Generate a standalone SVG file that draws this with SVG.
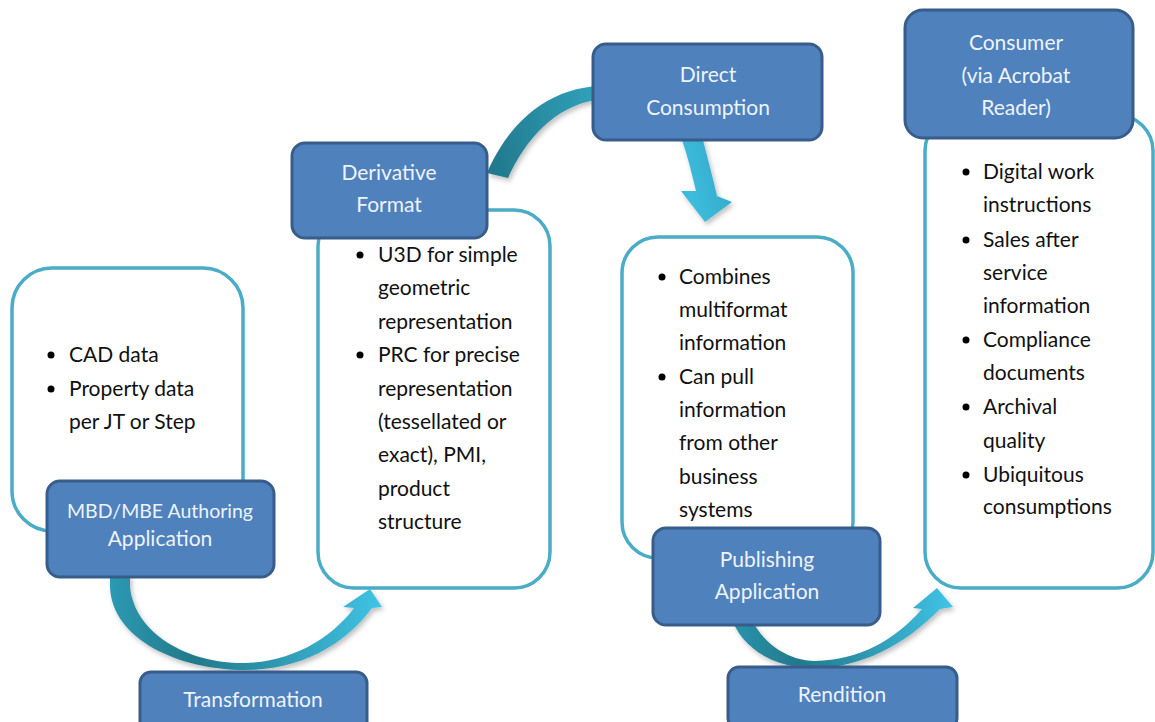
<svg xmlns="http://www.w3.org/2000/svg" width="1155" height="722" viewBox="0 0 1155 722">
<defs>
<style>
.wbox{fill:#ffffff;stroke:#4BACC6;stroke-width:3.5}
.bbox{fill:#4F81BD;stroke:#385D8A;stroke-width:3}
.ht{font-family:Lato,"Liberation Sans",sans-serif;font-size:21px;fill:#eef3fb;text-anchor:middle}
.bt{font-family:Lato,"Liberation Sans",sans-serif;font-size:21px;fill:#111111}
.dot{fill:#000000}
</style>
<filter id="sh" x="-20%" y="-20%" width="140%" height="140%">
<feDropShadow dx="2" dy="3" stdDeviation="2.5" flood-color="#000000" flood-opacity="0.25"/>
</filter>
<linearGradient id="gT" gradientUnits="userSpaceOnUse" x1="110" y1="0" x2="382" y2="0">
<stop offset="0" stop-color="#2c9ab3"/>
<stop offset="0.3" stop-color="#23798b"/>
<stop offset="0.6" stop-color="#2e97b0"/>
<stop offset="1" stop-color="#40c4e6"/>
</linearGradient>
<linearGradient id="gR" gradientUnits="userSpaceOnUse" x1="733" y1="0" x2="953" y2="0">
<stop offset="0" stop-color="#2a93ab"/>
<stop offset="0.3" stop-color="#23798b"/>
<stop offset="0.6" stop-color="#2e97b0"/>
<stop offset="1" stop-color="#40c4e6"/>
</linearGradient>
<linearGradient id="gD" gradientUnits="userSpaceOnUse" x1="487" y1="180" x2="720" y2="120">
<stop offset="0" stop-color="#22768a"/>
<stop offset="0.45" stop-color="#2d9bb3"/>
<stop offset="0.8" stop-color="#3dbcdc"/>
<stop offset="1" stop-color="#34a9c8"/>
</linearGradient>
</defs>

<g id="box-authoring-info"><rect class="wbox" x="12" y="268" width="231" height="263" rx="40"/>
<circle class="dot" cx="51" cy="355" r="3.5"/><text class="bt" x="69" y="362">CAD data</text>
<circle class="dot" cx="51" cy="389" r="3.5"/><text class="bt" x="69" y="396">Property data</text>
<text class="bt" x="69" y="429">per JT or Step</text></g>

<g id="box-derivative-info"><rect class="wbox" x="318" y="210" width="232" height="378" rx="36"/>
<circle class="dot" cx="360" cy="255" r="3.5"/><text class="bt" x="378" y="262">U3D for simple</text>
<text class="bt" x="378" y="295">geometric</text>
<text class="bt" x="378" y="329">representation</text>
<circle class="dot" cx="360" cy="355" r="3.5"/><text class="bt" x="378" y="362">PRC for precise</text>
<text class="bt" x="378" y="396">representation</text>
<text class="bt" x="378" y="429">(tessellated or</text>
<text class="bt" x="378" y="462">exact), PMI,</text>
<text class="bt" x="378" y="496">product</text>
<text class="bt" x="378" y="529">structure</text></g>

<g id="box-publishing-info"><rect class="wbox" x="622" y="237" width="231" height="321" rx="36"/>
<circle class="dot" cx="662" cy="277" r="3.5"/><text class="bt" x="679" y="284">Combines</text>
<text class="bt" x="679" y="317">multiformat</text>
<text class="bt" x="679" y="350">information</text>
<circle class="dot" cx="662" cy="377" r="3.5"/><text class="bt" x="679" y="384">Can pull</text>
<text class="bt" x="679" y="417">information</text>
<text class="bt" x="679" y="450">from other</text>
<text class="bt" x="679" y="484">business</text>
<text class="bt" x="679" y="517">systems</text></g>

<g id="box-consumer-info"><rect class="wbox" x="925" y="115" width="228" height="473" rx="36"/>
<circle class="dot" cx="966" cy="172" r="3.5"/><text class="bt" x="983" y="179">Digital work</text>
<text class="bt" x="983" y="212">instructions</text>
<circle class="dot" cx="966" cy="240" r="3.5"/><text class="bt" x="983" y="247">Sales after</text>
<text class="bt" x="983" y="280">service</text>
<text class="bt" x="983" y="313">information</text>
<circle class="dot" cx="966" cy="340" r="3.5"/><text class="bt" x="983" y="347">Compliance</text>
<text class="bt" x="983" y="380">documents</text>
<circle class="dot" cx="966" cy="407" r="3.5"/><text class="bt" x="983" y="414">Archival</text>
<text class="bt" x="983" y="448">quality</text>
<circle class="dot" cx="966" cy="475" r="3.5"/><text class="bt" x="983" y="482">Ubiquitous</text>
<text class="bt" x="983" y="514">consumptions</text></g>

<g id="connectors" filter="url(#sh)">
<path fill="url(#gT)" d="M110,575 L110,587 C112,640 180,670 245,670 C300,670 345,645 372,608 L382,607 L370,589 L343,607 L354,608 C330,640 290,662 245,663 C190,664 135,635 130,587 L130,575 Z"/>
<path fill="url(#gD)" d="M487,173 C510,120 550,88 600,86 C650,84 690,105 703,140 C708,160 713,178 717,196 L732,202 L705,222 L681,191 L696,191 C692,175 688,157 682,140 C670,118 640,100 596,100 C555,106 525,140 508,178 Z"/>
<path fill="url(#gR)" d="M733,615 L733,622 C745,650 775,668 815,668 C860,668 905,645 940,609 L953,607 L937,588 L913,608 L922,609 C895,640 860,660 815,661 C790,661 765,645 753,622 L753,615 Z"/>
</g>

<g id="node-authoring"><rect class="bbox" x="47" y="481" width="227" height="96" rx="13"/>
<text class="ht" x="160" y="518" style="font-size:19.5px">MBD/MBE Authoring</text>
<text class="ht" x="160" y="546">Application</text></g>

<g id="node-derivative"><rect class="bbox" x="292" y="143" width="195" height="95" rx="13"/>
<text class="ht" x="389" y="180">Derivative</text>
<text class="ht" x="389" y="212">Format</text></g>

<g id="node-direct"><rect class="bbox" x="593" y="44" width="229" height="96" rx="13"/>
<text class="ht" x="708" y="82">Direct</text>
<text class="ht" x="708" y="115">Consumption</text></g>

<g id="node-publishing"><rect class="bbox" x="653" y="528" width="227" height="97" rx="13"/>
<text class="ht" x="767" y="567">Publishing</text>
<text class="ht" x="767" y="599">Application</text></g>

<g id="node-consumer"><rect class="bbox" x="905" y="10" width="228" height="128" rx="18"/>
<text class="ht" x="1016" y="50">Consumer</text>
<text class="ht" x="1016" y="83">(via Acrobat</text>
<text class="ht" x="1016" y="115">Reader)</text></g>

<g id="node-transformation"><rect class="bbox" x="140" y="672" width="227" height="62" rx="11"/>
<text class="ht" x="253" y="707">Transformation</text></g>

<g id="node-rendition"><rect class="bbox" x="728" y="667" width="229" height="62" rx="11"/>
<text class="ht" x="842" y="702">Rendition</text></g>
</svg>
